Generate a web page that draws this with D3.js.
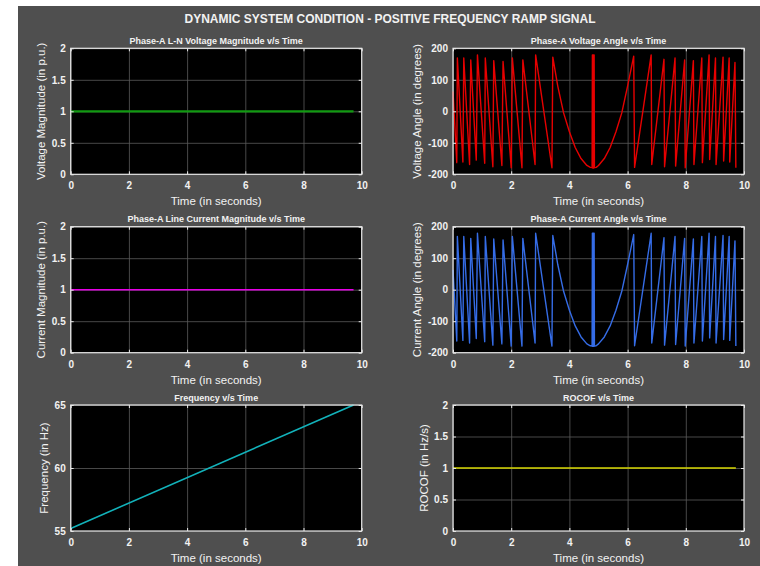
<!DOCTYPE html>
<html>
<head>
<meta charset="utf-8">
<script src="https://cdn.jsdelivr.net/npm/d3@7"></script>
<style>
  body { margin: 0; background: #fff; }
  svg { display: block; font-family: "Liberation Sans", Arial, sans-serif; }
</style>
</head>
<body>
<div id="chart"></div>
<script>
'use strict';

// tick labels
const timeTicks = [0, 2, 4, 6, 8, 10];
const magTicks = [0, 0.5, 1, 1.5, 2];
const angleTicks = [-200, -100, 0, 100, 200];
const freqTicks = [55, 60, 65];
const rocofTicks = [0, 0.5, 1, 1.5, 2];

// flat series
const magTime = [0, 9.72];
const voltMag = [1, 1];
const currMag = [1, 1];
const freqTime = [0, 9.72];
const freqHz = [55.2, 65];
const rocofTime = [0, 9.72];
const rocofVal = [1, 1];

// phase angle, vertices (voltage and current traces look identical)
const angleTime = [
  0, 0.13, 0.15, 0.34, 0.37, 0.57, 0.61, 0.80, 0.84, 1.09, 1.11, 1.37, 1.40, 1.68, 1.72,
  2.00, 2.04, 2.37, 2.40, 2.82, 2.84, 3.40, 3.43,
  3.6, 3.8, 4.0, 4.2, 4.4, 4.6, 4.72,
  4.78, 4.79, 4.80, 4.81, 4.82, 4.83, 4.84, 4.85, 4.86,
  4.92, 5.0, 5.2, 5.4, 5.6, 5.8, 6.0, 6.21,
  6.24, 6.81, 6.83, 7.25, 7.27, 7.63, 7.65, 7.96, 7.98, 8.26, 8.28, 8.55, 8.57,
  8.80, 8.82, 9.02, 9.04, 9.28, 9.30, 9.49, 9.51, 9.69, 9.72
];
const angleDeg = [
  63, -163, 169, -161, 169, -169, 163, -155, 179, -165, 169, -176, 161, -172, 158,
  -179, 169, -179, 163, -169, 179, -179, 172,
  80, -5, -65, -115, -150, -172, -178,
  -179, 179, -180, 179, -180, 179, -180, 179, -179,
  -178, -172, -150, -115, -65, -5, 80, 175,
  -178, 179, -169, 165, -176, 169, -174, 163, -179, 161, -169, 169, -163,
  179, -153, 169, -169, 172, -158, 169, -161, 155, -179
];

const W = 760, H = 566;
const colX = [70.7, 453];
const rowY = [48.3, 226.7, 405];
const plotW = 291, plotH = 126;
const txt = '#f2f2f2';

const panels = [
  { title: 'Phase-A L-N Voltage Magnitude v/s Time', ylabel: 'Voltage Magnitude (in p.u.)',
    col: 0, row: 0, yDomain: [0, 2], yTicks: magTicks, t: magTime, v: voltMag, color: '#129a12', lw: 2.2 },
  { title: 'Phase-A  Voltage Angle v/s Time', ylabel: 'Voltage Angle  (in degrees)',
    col: 1, row: 0, yDomain: [-200, 200], yTicks: angleTicks, t: angleTime, v: angleDeg, color: '#e60000', lw: 1.4 },
  { title: 'Phase-A Line Current Magnitude v/s Time', ylabel: 'Current Magnitude (in p.u.)',
    col: 0, row: 1, yDomain: [0, 2], yTicks: magTicks, t: magTime, v: currMag, color: '#e600e6', lw: 1.6 },
  { title: 'Phase-A Current Angle v/s Time', ylabel: 'Current Angle  (in degrees)',
    col: 1, row: 1, yDomain: [-200, 200], yTicks: angleTicks, t: angleTime, v: angleDeg, color: '#356ce6', lw: 1.4 },
  { title: 'Frequency v/s Time', ylabel: 'Frequency (in  Hz)',
    col: 0, row: 2, yDomain: [55, 65], yTicks: freqTicks, t: freqTime, v: freqHz, color: '#12b2ba', lw: 1.6 },
  { title: 'ROCOF v/s Time', ylabel: 'ROCOF (in  Hz/s)',
    col: 1, row: 2, yDomain: [0, 2], yTicks: rocofTicks, t: rocofTime, v: rocofVal, color: '#d6d600', lw: 1.6 }
];

const svg = d3.select('#chart').append('svg')
  .attr('width', W)
  .attr('height', H);

svg.append('rect')
  .attr('x', 18).attr('y', 6)
  .attr('width', W - 18).attr('height', H - 6)
  .attr('fill', '#4f4f4f');

svg.append('text')
  .attr('x', 390).attr('y', 23)
  .attr('text-anchor', 'middle')
  .attr('fill', txt)
  .style('font-size', '12px')
  .style('font-weight', 'bold')
  .text('DYNAMIC SYSTEM CONDITION - POSITIVE FREQUENCY RAMP SIGNAL');

panels.forEach((p) => {
  const x0 = colX[p.col], y0 = rowY[p.row];

  const x = d3.scaleLinear().domain([0, 10]).range([0, plotW]);
  const y = d3.scaleLinear().domain(p.yDomain).range([plotH, 0]);

  const g = svg.append('g').attr('transform', `translate(${x0},${y0})`);

  g.append('rect')
    .attr('width', plotW).attr('height', plotH)
    .attr('fill', '#000');

  // grid
  g.append('g')
    .attr('transform', `translate(0,${plotH})`)
    .call(d3.axisBottom(x).tickValues(timeTicks).tickSize(-plotH).tickFormat(''))
    .call(a => a.select('.domain').remove())
    .selectAll('line').attr('stroke', '#5a5a5a').attr('stroke-width', 0.8);

  g.append('g')
    .call(d3.axisLeft(y).tickValues(p.yTicks).tickSize(-plotW).tickFormat(''))
    .call(a => a.select('.domain').remove())
    .selectAll('line').attr('stroke', '#5a5a5a').attr('stroke-width', 0.8);

  // series
  const pts = p.t.map((t, i) => [t, p.v[i]]);
  g.append('path')
    .datum(pts)
    .attr('fill', 'none')
    .attr('stroke', p.color)
    .attr('stroke-width', p.lw)
    .attr('stroke-linejoin', 'round')
    .attr('d', d3.line().x(d => x(d[0])).y(d => y(d[1])));

  // axes with inward ticks
  const xAx = g.append('g')
    .attr('transform', `translate(0,${plotH})`)
    .call(d3.axisBottom(x).tickValues(timeTicks).tickSizeInner(-3).tickSizeOuter(0).tickPadding(8)
      .tickFormat(d => String(d)));

  const yAx = g.append('g')
    .call(d3.axisLeft(y).tickValues(p.yTicks).tickSizeInner(-3).tickSizeOuter(0).tickPadding(5)
      .tickFormat(d => String(d)));

  g.append('g')
    .call(d3.axisTop(x).tickValues(timeTicks).tickSizeInner(-3).tickSizeOuter(0).tickFormat(''));
  g.append('g')
    .attr('transform', `translate(${plotW},0)`)
    .call(d3.axisRight(y).tickValues(p.yTicks).tickSizeInner(-3).tickSizeOuter(0).tickFormat(''));

  g.selectAll('.domain').remove();
  g.selectAll('.tick line').filter(function () { return this.getAttribute('stroke') === 'currentColor'; })
    .attr('stroke', '#e8e8e8');
  g.selectAll('.tick text')
    .attr('fill', txt)
    .style('font-size', '10px')
    .style('font-weight', 'bold')
    .style('font-family', '"Liberation Sans", Arial, sans-serif');

  g.append('rect')
    .attr('width', plotW).attr('height', plotH)
    .attr('fill', 'none')
    .attr('stroke', '#e8e8e8')
    .attr('stroke-width', 1.2);

  // titles and labels
  g.append('text')
    .attr('x', plotW / 2).attr('y', -4.5)
    .attr('text-anchor', 'middle')
    .attr('fill', txt)
    .style('font-size', '9px')
    .style('font-weight', 'bold')
    .text(p.title);

  g.append('text')
    .attr('x', plotW / 2).attr('y', plotH + 31)
    .attr('text-anchor', 'middle')
    .attr('fill', txt)
    .style('font-size', '11.5px')
    .text('Time (in seconds)');

  const bb = yAx.node().getBBox();
  const lx = bb.x - 10.5;
  g.append('text')
    .attr('transform', `translate(${lx},${plotH / 2}) rotate(-90)`)
    .attr('text-anchor', 'middle')
    .attr('dominant-baseline', 'central')
    .attr('fill', txt)
    .style('font-size', '11.5px')
    .text(p.ylabel);
});
</script>
</body>
</html>
